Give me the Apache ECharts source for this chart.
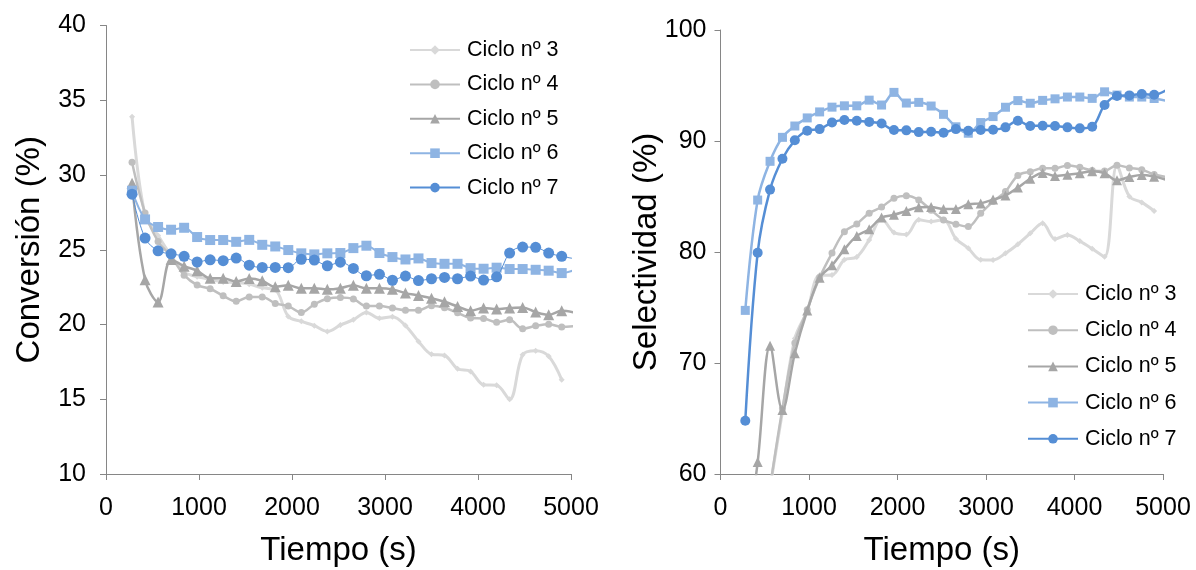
<!DOCTYPE html>
<html><head><meta charset="utf-8">
<script src="https://cdn.jsdelivr.net/npm/echarts@6/dist/echarts.min.js"></script>
<style>
html,body{margin:0;padding:0;background:#fff;}
#c1{position:absolute;left:0;top:0;width:598px;height:570px;}
#c2{position:absolute;left:598px;top:0;width:598px;height:570px;}
</style></head><body>
<div id="c1"></div><div id="c2"></div>
<script>
// Time (s) of each sample
const tiempo = [280, 420, 560, 700, 840, 980, 1120, 1260, 1400, 1540, 1680, 1820, 1960, 2100, 2240, 2380, 2520, 2660, 2800, 2940, 3080, 3220, 3360, 3500, 3640, 3780, 3920, 4060, 4200, 4340, 4480, 4620, 4760, 4900, 5040];
const xTicks = [0, 1000, 2000, 3000, 4000, 5000];
const seriesNames = ['Ciclo nº 3', 'Ciclo nº 4', 'Ciclo nº 5', 'Ciclo nº 6', 'Ciclo nº 7'];

// Conversión (%)
const conv3 = [33.9, 27.3, 25.95, 24.6, 23.5, 23.2, 23.0, 22.85, 22.8, 22.7, 22.45, 22.33, 20.54, 20.21, 19.92, 19.54, 19.96, 20.32, 20.81, 20.41, 20.52, 19.93, 18.87, 18.01, 17.93, 17.04, 16.86, 15.97, 15.93, 15.0, 17.98, 18.25, 17.88, 16.31];
const conv4 = [30.85, 27.46, 25.56, 24.56, 23.3, 22.64, 22.39, 21.92, 21.55, 21.84, 21.84, 21.41, 21.23, 20.8, 21.35, 21.72, 21.81, 21.71, 21.23, 21.23, 21.1, 20.96, 20.95, 21.25, 21.12, 20.78, 20.43, 20.4, 20.15, 20.31, 19.72, 19.91, 20.02, 19.84, 19.9];
const conv5 = [29.45, 23.0, 21.5, 24.35, 23.9, 23.6, 23.1, 23.1, 22.88, 23.08, 22.92, 22.52, 22.62, 22.42, 22.42, 22.35, 22.43, 22.62, 22.42, 22.42, 22.35, 22.1, 21.94, 21.76, 21.52, 21.21, 20.92, 21.1, 21.03, 21.1, 21.14, 20.83, 20.65, 20.92, 20.8];
const conv6 = [28.95, 27.03, 26.52, 26.34, 26.47, 25.85, 25.65, 25.65, 25.53, 25.66, 25.33, 25.22, 24.98, 24.76, 24.69, 24.76, 24.78, 25.11, 25.27, 24.78, 24.51, 24.35, 24.42, 24.11, 24.06, 24.06, 23.77, 23.73, 23.8, 23.71, 23.71, 23.66, 23.6, 23.44, 23.65];
const conv7 = [28.72, 25.78, 24.93, 24.73, 24.56, 24.18, 24.33, 24.27, 24.44, 23.97, 23.82, 23.82, 23.8, 24.36, 24.31, 23.93, 24.17, 23.75, 23.26, 23.36, 22.96, 23.24, 22.94, 23.06, 23.15, 23.06, 23.24, 22.97, 23.19, 24.78, 25.18, 25.16, 24.78, 24.56, 24.4];

// Selectividad (%)
const sel3 = [null, null, 58.8, 65.6, 72.2, 74.7, 77.9, 77.93, 79.3, 79.55, 81.09, 83.0, 81.76, 81.58, 82.9, 82.74, 82.9, 81.2, 80.33, 79.3, 79.28, 79.88, 80.7, 81.68, 82.59, 81.16, 81.54, 80.98, 80.3, 79.58, 87.8, 85.0, 84.47, 83.7];
const sel4 = [null, null, 58.8, 65.9, 71.8, 74.8, 77.7, 79.9, 81.82, 82.53, 83.5, 84.05, 84.84, 85.06, 84.69, 83.77, 82.89, 82.51, 82.29, 83.49, 84.54, 85.44, 86.9, 87.24, 87.54, 87.54, 87.8, 87.63, 87.35, 87.3, 87.82, 87.57, 87.42, 86.98, 86.76];
const sel5 = [53, 61.07, 71.56, 65.77, 70.88, 74.73, 77.68, 78.8, 80.24, 81.45, 82.06, 83.1, 83.35, 83.7, 84.03, 84.06, 83.88, 83.88, 84.31, 84.38, 84.72, 85.08, 85.8, 86.6, 87.12, 86.85, 86.97, 87.09, 87.28, 87.1, 86.46, 86.76, 86.94, 86.79, 86.5];
const sel6 = [74.74, 84.68, 88.17, 90.33, 91.35, 92.08, 92.62, 93.05, 93.17, 93.17, 93.68, 93.24, 94.38, 93.42, 93.48, 93.15, 92.4, 91.28, 90.7, 91.66, 92.2, 93.04, 93.64, 93.4, 93.66, 93.8, 93.96, 93.96, 93.84, 94.43, 94.14, 93.96, 93.96, 93.83, 93.63];
const sel7 = [64.8, 79.94, 85.62, 88.4, 90.06, 90.93, 91.07, 91.67, 91.89, 91.83, 91.72, 91.57, 90.99, 90.96, 90.8, 90.84, 90.75, 91.07, 90.93, 90.99, 91.02, 91.23, 91.83, 91.35, 91.38, 91.35, 91.23, 91.14, 91.29, 93.24, 94.05, 94.11, 94.23, 94.17, 94.6];

const colors = ['#d9d9d9', '#bfbfbf', '#a6a6a6', '#8eb4e3', '#558ed5'];
const symbols = ['diamond', 'circle', 'triangle', 'rect', 'circle'];
const FONT = '"Liberation Sans", Arial, sans-serif';

function pairs(vals){ return vals.map((v,i)=>[tiempo[i], v]); }

function makeSeries(data, sizes, widths){
  return data.map((d,i)=>({
    name: seriesNames[i], type:'line', data: pairs(d), smooth:0.35,
    symbol: symbols[i], symbolSize: sizes[i], clip:true,
    lineStyle:{color:colors[i], width:widths[i]},
    itemStyle:{color:colors[i]},
    emphasis:{disabled:true}, z: 2+i
  }));
}

function axisCommon(){
  return {
    axisLine:{show:true, onZero:false, lineStyle:{color:'#868686', width:1}},
    axisTick:{show:true, inside:false, length:6, lineStyle:{color:'#868686'}},
    splitLine:{show:false},
    nameMoveOverlap:false,
    nameTextStyle:{color:'#000', fontSize:33, fontFamily:FONT}
  };
}

function xAxis(){
  return Object.assign(axisCommon(), {
    type:'value', min:xTicks[0], max:xTicks[xTicks.length-1], interval:1000,
    name:'Tiempo (s)', nameLocation:'middle', nameGap:60,
    axisLabel:{color:'#000', fontSize:25, fontFamily:FONT, margin:22, formatter:(v)=>String(v)}
  });
}

function legend(left, top, gap){
  return {
    orient:'vertical', left:left, top:top, itemWidth:50, itemHeight:12, itemGap:gap,
    textStyle:{color:'#000', fontSize:21.5, fontFamily:FONT, padding:[0,0,0,2]},
    data: seriesNames, selectedMode:false
  };
}

const c1 = echarts.init(document.getElementById('c1'), null, {renderer:'canvas'});
c1.setOption({
  animation:false, backgroundColor:'#fff',
  grid:{left:106, right:27, top:25.5, bottom:96, containLabel:false, outerBoundsMode:'none'},
  legend: legend(404, 34, 12.4),
  xAxis: xAxis(),
  yAxis: Object.assign(axisCommon(), {
    type:'value', min:10, max:40, interval:5,
    name:'Conversión (%)', nameLocation:'middle', nameGap:60,
    axisLabel:{color:'#000', fontSize:25, fontFamily:FONT, margin:20}
  }),
  series: makeSeries([conv3, conv4, conv5, conv6, conv7], [6, 7, 11, 10, 11], [3, 2.5, 2.5, 2, 1])
});

const c2 = echarts.init(document.getElementById('c2'), null, {renderer:'canvas'});
c2.setOption({
  animation:false, backgroundColor:'#fff',
  grid:{left:122.5, right:33, top:30, bottom:96, containLabel:false, outerBoundsMode:'none'},
  legend: legend(424, 278, 14.2),
  xAxis: xAxis(),
  yAxis: Object.assign(axisCommon(), {
    type:'value', min:60, max:100, interval:10,
    name:'Selectividad (%)', nameLocation:'middle', nameGap:57,
    axisLabel:{color:'#000', fontSize:25, fontFamily:FONT, margin:14}
  }),
  series: makeSeries([sel3, sel4, sel5, sel6, sel7], [6, 7, 10, 9, 10], [3, 2.5, 2.5, 2.5, 2.5])
});
</script></body></html>
